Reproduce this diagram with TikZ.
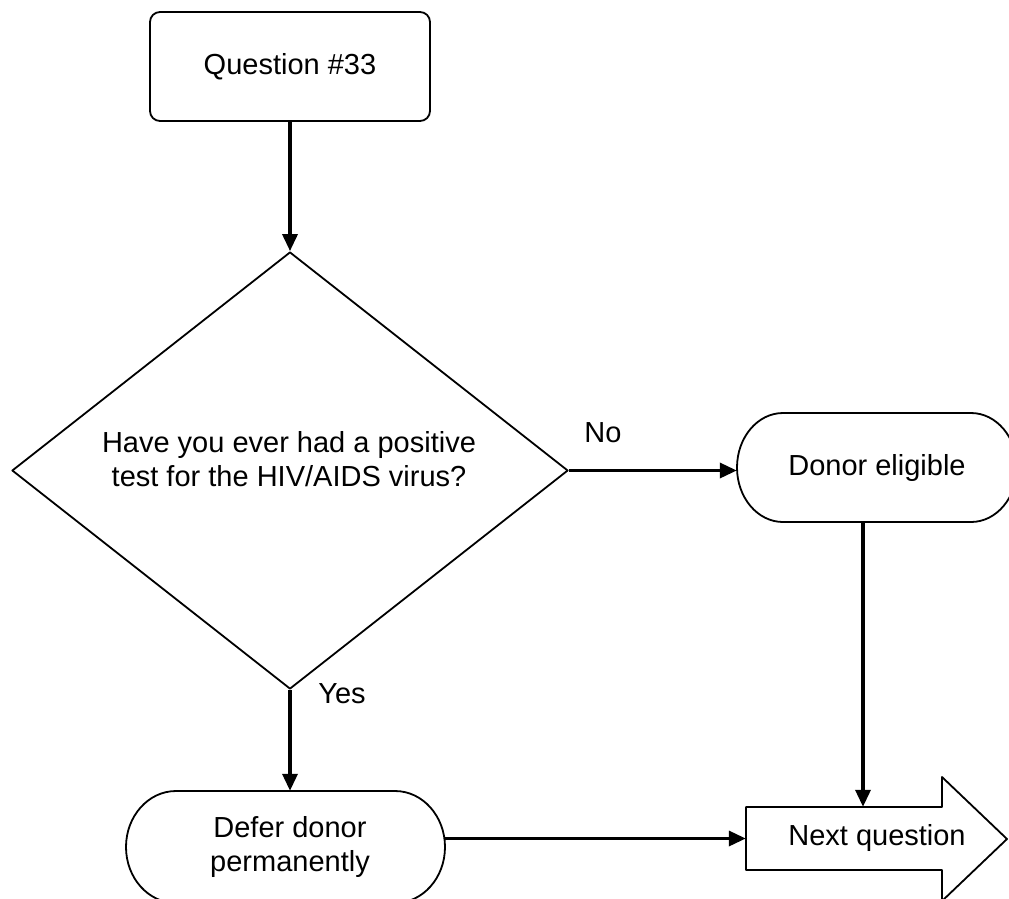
\documentclass[tikz,border=0pt]{standalone}
\usepackage{fontspec}
\setmainfont{Liberation Sans}
\usetikzlibrary{arrows.meta,shapes.geometric}
\begin{document}
\begin{tikzpicture}[x=1pt,y=-1pt,
  font=\fontsize{29}{34}\selectfont,
  shapeline/.style={line width=1.8pt, line join=round},
  conn/.style={line width=3.4pt, -{Triangle[length=17pt,width=15pt]}},
  lbl/.style={inner sep=0pt, align=center}]
\useasboundingbox (0,0) rectangle (1009,898);
\clip (0,0) rectangle (1009,898);
\fill[white] (0,0) rectangle (1009,898);

% Question box
\node[draw, shapeline, rounded corners=10pt, minimum width=280pt, minimum height=109pt, inner sep=0pt] (q) at (290,66.5) {Question \#33};

% Decision diamond
\node[draw, shapeline, diamond, aspect=1.27, minimum width=556pt, minimum height=437pt, inner sep=0pt] (d) at (290,470.5) {};
\node[lbl] (dt) at (289,459) {Have you ever had a positive\\test for the HIV/AIDS virus?};

% Donor eligible (terminal)
\node[lbl, minimum width=280pt, minimum height=109pt] (donor) at (877,467.5) {Donor eligible};
\draw[shapeline] (783,413) -- (971,413)
  arc[start angle=90, end angle=-90, x radius=46pt, y radius=54.5pt]
  -- (783,522)
  arc[start angle=270, end angle=90, x radius=46pt, y radius=54.5pt] -- cycle;

% Defer donor permanently (terminal)
\node[lbl, minimum width=310pt, minimum height=112pt] (defer) at (290,847) {Defer donor\\permanently};
\draw[shapeline] (176,791) -- (395,791)
  arc[start angle=90, end angle=-90, x radius=50pt, y radius=56pt]
  -- (176,903)
  arc[start angle=270, end angle=90, x radius=50pt, y radius=56pt] -- cycle;

% Next question block arrow
\node[lbl, minimum width=196pt, minimum height=63pt] (next) at (844,838.5) {};
\node[lbl] (nextlbl) at (877,838) {Next question};
\draw[shapeline] (746,807) -- (942,807) -- (942,777) -- (1007,839)
  -- (942,901) -- (942,870) -- (746,870) -- cycle;

% Connectors
\draw[conn] (q.south) -- (d.north);
\draw[conn] (d.east) -- (d.east -| donor.west);
\draw[conn] (d.south) -- (d.south |- defer.north);
\draw[conn] ([xshift=-14pt]donor.south) -- ([xshift=-14pt]donor.south |- next.north);
\draw[conn] (defer.east |- next.west) -- (next.west);

% Labels
\node[lbl] (no) at (603,433) {No};
\node[lbl] (yes) at (342,694) {Yes};
\end{tikzpicture}
\end{document}
